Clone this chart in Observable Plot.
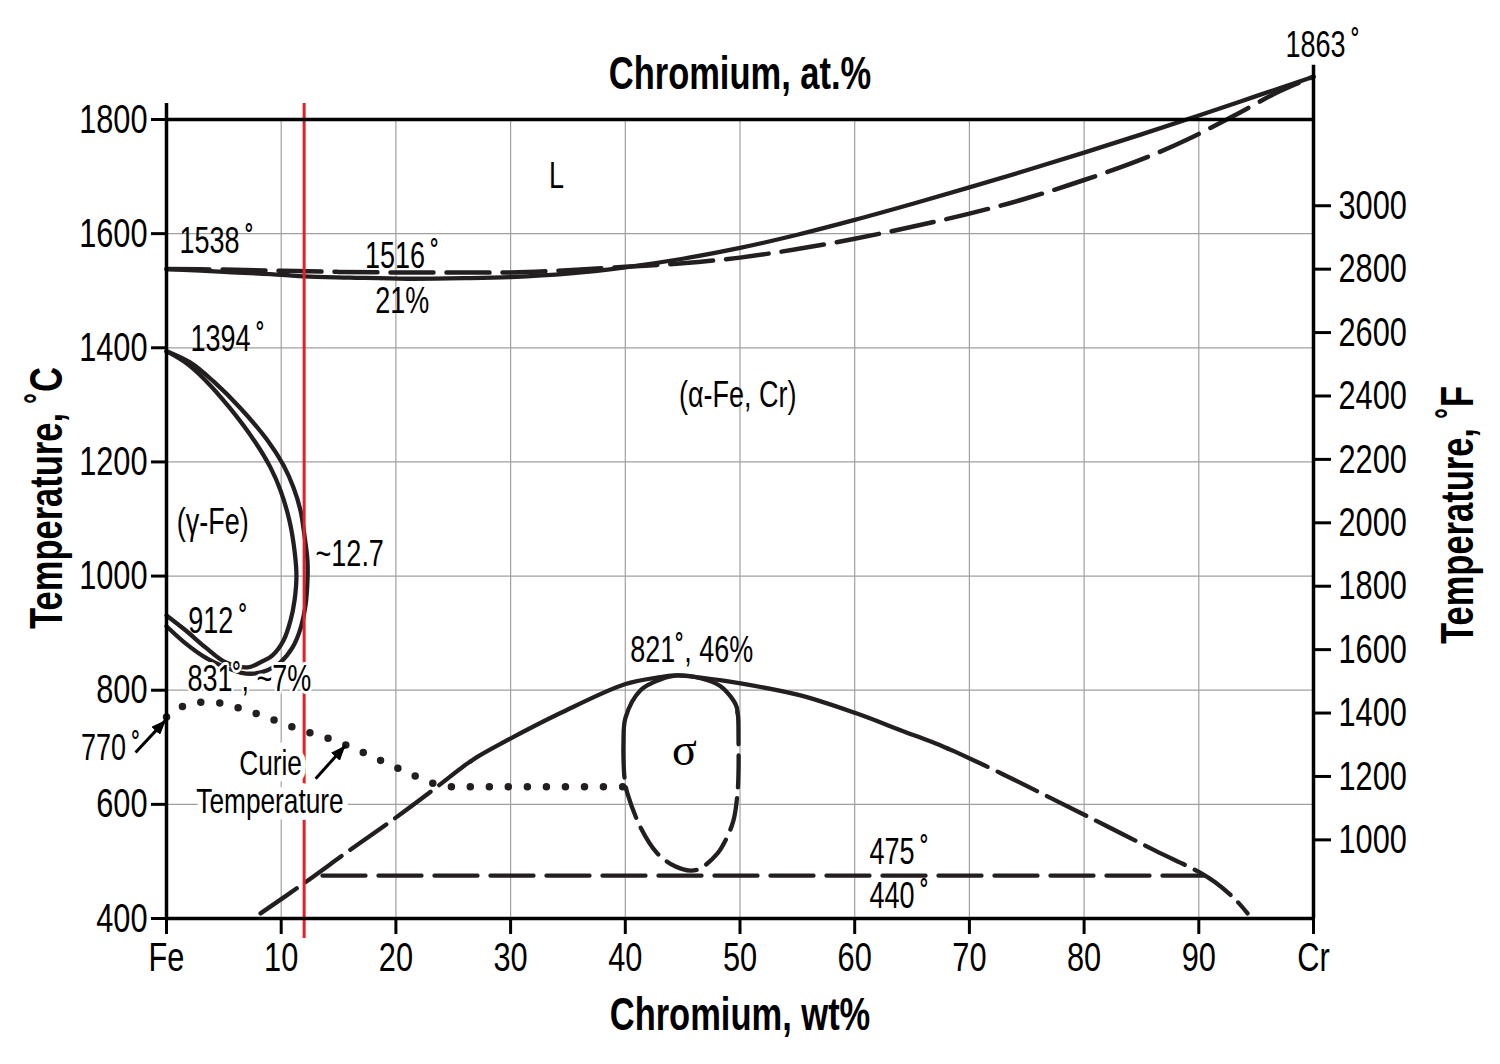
<!DOCTYPE html>
<html>
<head>
<meta charset="utf-8">
<script src="https://cdn.jsdelivr.net/npm/d3@7"></script>
<script src="https://cdn.jsdelivr.net/npm/@observablehq/plot@0.6"></script>
<style>
  html, body { margin: 0; padding: 0; background: #fff; }
  svg { display: block; }
</style>
</head>
<body>
<div id="chart"></div>
<script>
// ---------- axis ticks ----------
const xTicks = [0, 10, 20, 30, 40, 50, 60, 70, 80, 90, 100];
const xTickLabels = ["Fe", "10", "20", "30", "40", "50", "60", "70", "80", "90", "Cr"];
const gridXTicks = [10, 20, 30, 40, 50, 60, 70, 80, 90];
const yTicksC = [400, 600, 800, 1000, 1200, 1400, 1600, 1800];
const gridYTicks = [600, 800, 1000, 1200, 1400, 1600];
const yTicksF = [1000, 1200, 1400, 1600, 1800, 2000, 2200, 2400, 2600, 2800, 3000];

// ---------- phase boundaries [wt% Cr, °C] ----------
const liquidusSolid = [[0,1538],[5,1533],[10,1528],[12,1525],[16,1523],[21,1521],[26,1522],[30,1524],[35,1530],[40,1541],[45,1556],[50,1575],[55,1598],[60,1624],[65,1652],[70,1681],[75,1711],[80,1742],[85,1774],[90,1807],[95,1841],[100,1875]];
const liquidusDashed = [[0,1538],[5,1537],[10,1535],[15,1533],[20,1532],[25,1532],[30,1532],[35,1536],[40,1542],[45,1548],[50,1558],[55,1573],[60,1591],[65,1612],[70,1635],[75,1662],[80,1694],[85,1730],[89,1765],[93,1806],[97,1849],[100,1875]];

const gammaOuter = [[0,1394],[2.09,1374],[4.1,1341],[6.45,1294],[8.8,1238],[10.2,1194],[11.07,1155],[11.68,1115],[12.03,1071],[12.29,1027],[12.29,992],[12.12,949],[11.68,908],[10.99,875],[9.94,849],[8.8,835],[7.58,829],[6.45,831],[5.14,840],[3.4,857],[1.66,882],[0,912]];
const gammaInner = [[0,1394],[1.8,1372],[3.3,1345],[5.5,1295],[7.76,1234],[9.07,1190],[9.94,1150],[10.72,1097],[11.16,1045],[11.33,1001],[11.16,957],[10.81,922],[10.2,887],[9.24,861],[8.2,849],[7.06,840],[5.14,849],[3.4,875],[1.66,905],[0,931]];

const curieLine = [[0,753],[1.46,772],[3.11,779],[4.86,777],[6.51,767.5],[8.11,757],[9.74,745],[11.36,733],[13.0,722.5],[14.62,712],[16.22,699],[17.81,685],[19.42,670],[20.99,656],[22.55,642],[24.18,632],[25.87,631],[40,631]];

const sigmaArchLeft = [[8.2,409],[11.94,461],[16,520],[19.53,570],[23.28,626],[25.9,666.8],[26.5,675]];
const sigmaArchTop = [[26.5,675],[27.1,683.2],[29.12,706],[34.35,760],[40.02,811],[43.07,823],[44.55,826],[46.56,822],[50.04,812],[55.27,791],[60.07,760],[64.0,730],[67.5,703.2],[68.1,698]];
const sigmaArchRight = [[68.1,698],[68.7,692.8],[72.7,655],[77.5,607],[81.87,563],[86.2,519],[90.15,480],[91.46,463],[93.2,433],[94.25,409]];

const sigmaLoopSolid = [[39.93,647],[39.89,656],[39.84,707],[40.02,752],[41.33,800],[43.07,819],[44.55,826],[46.56,821],[48.3,807],[49.43,782],[49.72,770],[49.78,761]];
const sigmaLoopDashed = [[49.78,761],[49.84,752],[49.87,712],[49.87,659],[49.78,619],[49.43,572],[48.74,537],[48.04,514],[46.56,488],[45.68,484],[44.38,491],[42.8,514],[41.33,559.5],[40.19,619],[39.97,638],[39.93,647]];

const eutectoidLine = [[13.6,475],[90.4,475]];
const steelLine = [12];   // red 12 wt% Cr marker

// ---------- annotations ----------
const labelsStart = [
  {text: "1538\u2009˚", x: 1.13, y: 1586},
  {text: "1516\u2009˚", x: 17.3, y: 1560},
  {text: "21%", x: 18.2, y: 1481},
  {text: "1394\u2009˚", x: 2.1, y: 1415},
  {text: "(γ-Fe)", x: 0.9, y: 1094},
  {text: "~12.7", x: 13.0, y: 1038},
  {text: "912\u2009˚", x: 1.9, y: 920},
  {text: "475\u2009˚", x: 61.3, y: 515.7},
  {text: "440\u2009˚", x: 61.3, y: 438.6},
  {text: "1863\u2009˚", x: 97.56, y: 1930}
];
const labelsHaloStart = [
  {text: "831˚, ~7%", x: 1.83, y: 819}
];
const labelsMiddle = [
  {text: "L", x: 34.0, y: 1700},
  {text: "(α-Fe, Cr)", x: 49.8, y: 1316.6},
  {text: "821˚, 46%", x: 45.8, y: 869.7}
];
const labelsHaloMiddle = [
  {text: "Curie", x: 9.07, y: 671},
  {text: "Temperature", x: 9.02, y: 605}
];
const labelsEnd = [
  {text: "770\u2009˚", x: -2.27, y: 698}
];
const sigmaLabel = [{text: "σ", x: 45.16, y: 694}];
const arrows = [
  {x1: -2.7, y1: 691, x2: -0.05, y2: 748},
  {x1: 13.0, y1: 645, x2: 15.6, y2: 703}
];

// ---------- styling ----------
const ink = "#231f20";
const red = "#e3202a";
const gridColor = "#a0a0a0";
const FONT = "'Liberation Sans', Arial, sans-serif";
const fToC = f => (f - 32) * 5 / 9;
const px = d => d[0], py = d => d[1];

function arrowHead(color, context) {
  const doc = (context && context.document) || document;
  const m = doc.createElementNS("http://www.w3.org/2000/svg", "marker");
  m.setAttribute("viewBox", "-15 -6 15 12");
  m.setAttribute("markerWidth", "15");
  m.setAttribute("markerHeight", "12");
  m.setAttribute("markerUnits", "userSpaceOnUse");
  m.setAttribute("orient", "auto");
  m.setAttribute("refX", "0");
  m.setAttribute("refY", "0");
  const p = doc.createElementNS("http://www.w3.org/2000/svg", "path");
  p.setAttribute("d", "M-15,-6L0,0L-15,6Z");
  p.setAttribute("fill", color);
  p.setAttribute("stroke", "none");
  m.appendChild(p);
  return m;
}

function build(useMarker) {
  const lineOpts = {x: px, y: py, stroke: ink, strokeWidth: 4.3, curve: "catmull-rom"};
  const arrowMark = useMarker
    ? Plot.link(arrows, {x1: "x1", y1: "y1", x2: "x2", y2: "y2", stroke: "#000", strokeWidth: 3, markerEnd: arrowHead})
    : Plot.arrow(arrows, {x1: "x1", y1: "y1", x2: "x2", y2: "y2", stroke: "#000", strokeWidth: 3, headLength: 12, headAngle: 50});
  return Plot.plot({
    width: 1500,
    height: 1064,
    marginLeft: 166,
    marginRight: 187,
    marginTop: 119,
    marginBottom: 146,
    style: {fontFamily: FONT, background: "#fff", overflow: "visible", color: "#000"},
    x: {domain: [0, 100]},
    y: {domain: [400, 1800]},
    marks: [
      Plot.gridX(gridXTicks, {stroke: gridColor, strokeOpacity: 1, strokeWidth: 1.2}),
      Plot.gridY(gridYTicks, {stroke: gridColor, strokeOpacity: 1, strokeWidth: 1.2}),

      Plot.line(liquidusSolid, lineOpts),
      Plot.line(liquidusDashed, {...lineOpts, strokeWidth: 4.5, strokeDasharray: "43,13"}),
      Plot.line(gammaOuter, lineOpts),
      Plot.line(gammaInner, lineOpts),
      Plot.line(sigmaArchLeft, {...lineOpts, strokeDasharray: "44,11"}),
      Plot.line(sigmaArchTop, lineOpts),
      Plot.line(sigmaArchRight, {...lineOpts, strokeDasharray: "44,11"}),
      Plot.line(sigmaLoopSolid, lineOpts),
      Plot.line(sigmaLoopDashed, {...lineOpts, strokeDasharray: "32,11"}),
      Plot.line(eutectoidLine, {x: px, y: py, stroke: ink, strokeWidth: 4.3, strokeDasharray: "43,13"}),
      Plot.line(curieLine, {x: px, y: py, stroke: ink, strokeWidth: 7.5, strokeLinecap: "round", strokeDasharray: "0,19", curve: "catmull-rom"}),

      Plot.ruleX(steelLine, {y1: 365, y2: 1828, stroke: red, strokeWidth: 3}),

      arrowMark,

      Plot.text(labelsStart, {x: "x", y: "y", text: "text", textAnchor: "start", fontSize: 36, fill: "#000"}),
      Plot.text(labelsHaloStart, {x: "x", y: "y", text: "text", textAnchor: "start", fontSize: 36, fill: "#000", stroke: "#fff", strokeWidth: 6}),
      Plot.text(labelsMiddle, {x: "x", y: "y", text: "text", textAnchor: "middle", fontSize: 36, fill: "#000"}),
      Plot.text(labelsHaloMiddle, {x: "x", y: "y", text: "text", textAnchor: "middle", fontSize: 35, fill: "#000", stroke: "#fff", strokeWidth: 14}),
      Plot.text(labelsEnd, {x: "x", y: "y", text: "text", textAnchor: "end", fontSize: 36, fill: "#000"}),
      Plot.text(sigmaLabel, {x: "x", y: "y", text: "text", textAnchor: "middle", fontSize: 46, fontFamily: "'Liberation Serif', 'DejaVu Serif', serif", fill: "#000"}),

      // frame lines
      Plot.ruleX([0], {y1: 400, y2: 1828, stroke: "#000", strokeWidth: 3.5}),
      Plot.ruleX([100], {y1: 400, y2: 1895, stroke: "#000", strokeWidth: 3.5}),
      Plot.ruleY([1800], {x1: 0, x2: 100, stroke: "#000", strokeWidth: 3.5}),
      Plot.ruleY([400], {x1: 0, x2: 100, stroke: "#000", strokeWidth: 3.5}),

      // axes
      Plot.axisX(xTicks, {anchor: "bottom", tickSize: 16, tickPadding: 7, strokeWidth: 3, fontSize: 41, color: "#000", label: null,
        tickFormat: d => xTickLabels[xTicks.indexOf(d)]}),
      Plot.axisY(yTicksC, {anchor: "left", tickSize: 15, tickPadding: 4, strokeWidth: 3, fontSize: 41, color: "#000", label: null,
        tickFormat: d => String(d)}),
      Plot.axisY(yTicksF.map(fToC), {anchor: "right", tickSize: 17, tickPadding: 8, strokeWidth: 3, fontSize: 41, color: "#000", label: null,
        tickFormat: c => String(Math.round(c * 9 / 5 + 32))}),

      // axis titles
      Plot.text(["Chromium, at.%"], {frameAnchor: "top", textAnchor: "middle", lineAnchor: "middle", dy: -45, fontSize: 46, fontWeight: "bold", fill: "#000"}),
      Plot.text(["Chromium, wt%"], {frameAnchor: "bottom", textAnchor: "middle", lineAnchor: "middle", dy: 97, fontSize: 46, fontWeight: "bold", fill: "#000"}),
      Plot.text(["Temperature, ˚C"], {frameAnchor: "left", textAnchor: "middle", lineAnchor: "middle", rotate: -90, dx: -119, dy: -21, fontSize: 46, fontWeight: "bold", fill: "#000"}),
      Plot.text(["Temperature, ˚F"], {frameAnchor: "right", textAnchor: "middle", lineAnchor: "middle", rotate: -90, dx: 145, dy: -4, fontSize: 46, fontWeight: "bold", fill: "#000"})
    ]
  });
}

let svg;
try { svg = build(true); } catch (e) { svg = build(false); }
const holder = document.getElementById("chart");
holder.appendChild(svg);

// condense the sans-serif lettering horizontally around each text's anchor
const SCALE_X = 0.75;
svg.querySelectorAll("text").forEach(t => {
  if (t.textContent === "σ") return;
  const b = t.getBBox();
  if (!b.width) return;
  const anchor = getComputedStyle(t).textAnchor;
  const ax = anchor === "end" ? b.x + b.width : anchor === "middle" ? b.x + b.width / 2 : b.x;
  const prev = t.getAttribute("transform") || "";
  t.setAttribute("transform", `${prev} translate(${ax},0) scale(${SCALE_X},1) translate(${-ax},0)`.trim());
});
</script>
</body>
</html>
